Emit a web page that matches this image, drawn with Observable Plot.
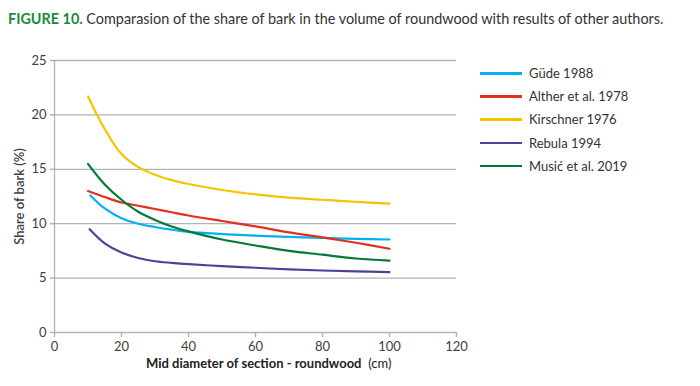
<!DOCTYPE html>
<html>
<head>
<meta charset="utf-8">
<script src="https://cdn.jsdelivr.net/npm/d3@7"></script>
<script src="https://cdn.jsdelivr.net/npm/@observablehq/plot@0.6"></script>
<style>
  html, body { margin: 0; padding: 0; background: #fff; }
  body { width: 700px; height: 386px; position: relative; overflow: hidden; font-family: Lato, "Open Sans", sans-serif; }
  #title { position: absolute; left: 8px; top: 10px; font-size: 14.4px; color: #333; white-space: nowrap; }
  #title b { color: #1a8a3a; font-weight: 700; }
  #chart { position: absolute; left: 0; top: 0; }
  #xlabel { position: absolute; top: 355px; left: 146px; font-size: 13px; color: #222; white-space: nowrap; }
  #xlabel b { font-weight: 700; }
  #legend { position: absolute; left: 480px; top: 64px; font-size: 13px; color: #333; }
  .item { position: absolute; left: 0; height: 18px; white-space: nowrap; }
  .item span.sw { position: absolute; left: 0; top: 8px; width: 42px; height: 2.5px; }
  .item span.lb { position: absolute; left: 49px; top: 0; line-height: 18px; }
  g[aria-label="y-axis label"] text { font-weight: 600; font-size: 13px; }
</style>
</head>
<body>
<div id="title"><b>FIGURE 10.</b> Comparasion of the share of bark in the volume of roundwood with results of other authors.</div>
<div id="chart"></div>
<div id="xlabel"><b>Mid diameter of section - roundwood</b>&nbsp; (cm)</div>
<div id="legend"></div>
<script>
// ---- data ----
const seriesNames = ["Güde 1988", "Alther et al. 1978", "Kirschner 1976", "Rebula 1994", "Musić et al. 2019"];
const seriesColors = ["#00b0f0", "#e0301e", "#f5c400", "#50409a", "#007a3a"];

const diameters  = [10, 15, 20, 25, 30, 35, 40, 50, 60, 70, 80, 90, 100];
const diametersG = [10.7, 15, 20, 25, 30, 35, 40, 50, 60, 70, 80, 90, 100];
const diametersR = [10.5, 15, 20, 25, 30, 35, 40, 50, 60, 70, 80, 90, 100];

const gude      = [12.6, 11.4, 10.5, 10.0, 9.7, 9.45, 9.25, 9.05, 8.9, 8.78, 8.7, 8.6, 8.55];
const alther    = [13.0, 12.45, 11.95, 11.65, 11.35, 11.05, 10.75, 10.25, 9.75, 9.2, 8.75, 8.25, 7.7];
const kirschner = [21.7, 18.7, 16.4, 15.2, 14.5, 14.0, 13.65, 13.1, 12.7, 12.4, 12.2, 12.0, 11.85];
const rebula    = [9.5, 8.2, 7.35, 6.85, 6.55, 6.4, 6.28, 6.1, 5.95, 5.8, 5.7, 5.62, 5.55];
const music     = [15.5, 13.6, 12.2, 11.1, 10.35, 9.75, 9.3, 8.55, 8.0, 7.5, 7.15, 6.8, 6.6];

const xTicks = [0, 20, 40, 60, 80, 100, 120];
const yTicks = [0, 5, 10, 15, 20, 25];

// ---- build table ----
const seriesX = [diametersG, diameters, diameters, diametersR, diameters];
const seriesY = [gude, alther, kirschner, rebula, music];
const rows = [];
seriesNames.forEach((name, i) => {
  seriesY[i].forEach((v, j) => rows.push({series: name, x: seriesX[i][j], y: v}));
});

const gridColor = "#999999";
const chart = Plot.plot({
  width: 700,
  height: 386,
  marginTop: 60,
  marginBottom: 54,
  marginLeft: 54,
  marginRight: 244,
  style: {fontFamily: "Lato, 'Open Sans', sans-serif", fontSize: "13px", color: "#404040", background: "transparent"},
  x: {domain: [0, 120]},
  y: {domain: [0, 25]},
  color: {domain: seriesNames, range: seriesColors},
  marks: [
    Plot.ruleY(yTicks, {stroke: gridColor, strokeWidth: 1.3, strokeOpacity: 0.75}),
    Plot.ruleX([0], {stroke: gridColor, strokeWidth: 1.3, strokeOpacity: 0.75}),
    Plot.axisX({ticks: xTicks, tickSize: 5, tickPadding: 4, stroke: "#b0b0b0", strokeWidth: 1.4, fill: "#404040", label: null}),
    Plot.axisY({ticks: yTicks, tickSize: 4, tickPadding: 4, stroke: "#b0b0b0", strokeWidth: 1.4, fill: "#404040",
      label: "Share of bark (%)", labelAnchor: "center", labelArrow: "none", labelOffset: 40}),
    Plot.line(rows, {x: "x", y: "y", z: "series", stroke: "series", strokeWidth: 2.2, curve: "catmull-rom"})
  ]
});
document.getElementById("chart").appendChild(chart);

// ---- legend ----
const legend = document.getElementById("legend");
seriesNames.forEach((name, i) => {
  const item = document.createElement("div");
  item.className = "item";
  item.style.top = (i * 23.2) + "px";
  item.innerHTML = `<span class="sw" style="background:${seriesColors[i]}"></span><span class="lb">${name}</span>`;
  legend.appendChild(item);
});
</script>
</body>
</html>
